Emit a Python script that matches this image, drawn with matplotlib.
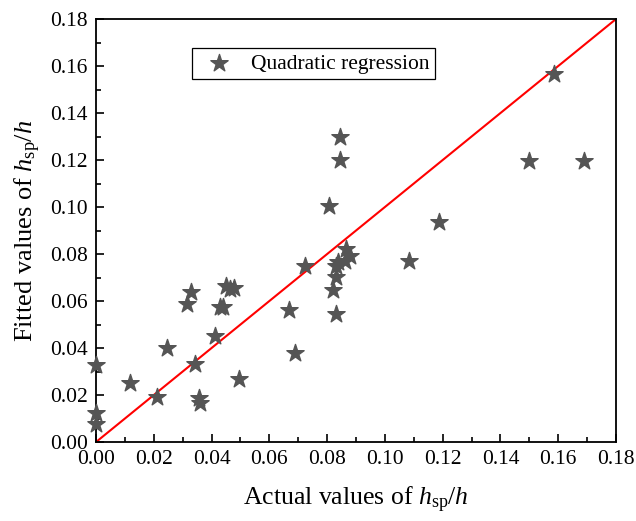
import matplotlib
matplotlib.use("Agg")
import matplotlib.pyplot as plt

plt.rcParams['font.family'] = ['Liberation Serif', 'DejaVu Serif']
plt.rcParams['mathtext.fontset'] = 'custom'
plt.rcParams['mathtext.rm'] = 'Liberation Serif'
plt.rcParams['mathtext.it'] = 'Liberation Serif:italic'

# actual vs fitted h_sp/h
actual = [0.000, 0.000, 0.000, 0.0118, 0.0212, 0.0247, 0.0316, 0.0328, 0.0344, 0.0355,
          0.0360, 0.0412, 0.0429, 0.0440, 0.0450, 0.0464, 0.0478, 0.0496, 0.0669, 0.0690,
          0.0723, 0.0807, 0.0819, 0.0830, 0.0830, 0.0830, 0.0839, 0.0845, 0.0845, 0.0862,
          0.0865, 0.0879, 0.1084, 0.1188, 0.1500, 0.1585, 0.1689]
fitted = [0.0328, 0.0125, 0.0077, 0.0250, 0.0190, 0.0400, 0.0588, 0.0638, 0.0332, 0.0189,
          0.0165, 0.0452, 0.0574, 0.0574, 0.0665, 0.0652, 0.0656, 0.0267, 0.0561, 0.0380,
          0.0750, 0.1005, 0.0648, 0.0545, 0.0702, 0.0747, 0.0764, 0.1300, 0.1198, 0.0772,
          0.0820, 0.0790, 0.0772, 0.0938, 0.1194, 0.1568, 0.1194]

fig = plt.figure(figsize=(6.36, 5.21), dpi=100)
ax = fig.add_axes([0.151, 0.1516, 0.8176, 0.8119])

ax.plot([0, 0.18], [0, 0.18], color='red', lw=1.5, zorder=2)
ax.scatter(actual, fitted, marker='*', s=170, color='#555555', zorder=3,
           label='Quadratic regression', clip_on=False)

ax.set_xlim(0, 0.18)
ax.set_ylim(0, 0.18)
ticks = [i * 0.02 for i in range(10)]
ax.set_xticks(ticks)
ax.set_yticks(ticks)
ax.set_xticklabels([f"{t:.2f}" for t in ticks])
ax.set_yticklabels([f"{t:.2f}" for t in ticks])
ax.set_xticks([0.01 + i * 0.02 for i in range(9)], minor=True)
ax.set_yticks([0.01 + i * 0.02 for i in range(9)], minor=True)
ax.tick_params(which='both', direction='in', labelsize=15.5, width=1.2)
ax.tick_params(which='major', length=6)
ax.tick_params(axis='y', which='major', pad=6)
ax.tick_params(axis='x', which='major', pad=6)
ax.tick_params(which='minor', length=3.5)
for sp in ax.spines.values():
    sp.set_linewidth(1.3)

ax.set_xlabel(r"Actual values of $h_{\mathrm{sp}}/h$", fontsize=18.5, labelpad=11)
ax.set_ylabel(r"Fitted values of $h_{\mathrm{sp}}/h$", fontsize=19, labelpad=5)

leg = ax.legend(loc='upper left', bbox_to_anchor=(0.185, 0.931), borderaxespad=0,
                fancybox=False, edgecolor='black', fontsize=15.5, framealpha=1,
                handletextpad=0.5, borderpad=0.25)
leg.get_frame().set_linewidth(0.9)

fig.savefig("out.png", dpi=100)
